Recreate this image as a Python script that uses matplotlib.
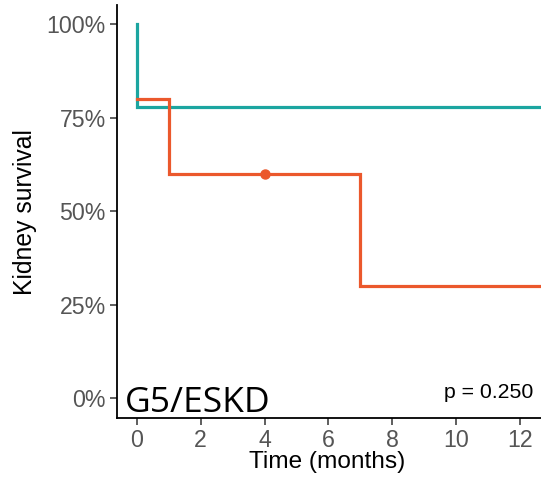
import matplotlib
matplotlib.use("Agg")
import matplotlib.pyplot as plt

# Kaplan-Meier step data
teal_time = [0.0, 0.02, 12.6]
teal_surv = [1.0, 0.778, 0.778]
orange_time = [0.0, 1.0, 7.0, 12.6]
orange_surv = [0.80, 0.60, 0.30, 0.30]
censor_time = [4.0]
censor_surv = [0.60]

x_ticks = [0, 2, 4, 6, 8, 10, 12]
y_ticks = [0, 0.25, 0.5, 0.75, 1.0]
y_tick_labels = ["0%", "25%", "50%", "75%", "100%"]

teal = "#1BA5A0"
orange = "#EB582C"

plt.rcParams['font.family'] = ['Liberation Sans', 'DejaVu Sans']

fig = plt.figure(figsize=(5.41, 4.78), dpi=100)
ax = fig.add_axes([117/541, 1 - 418.3/478, 1 - 117/541, (418.3 - 5)/478])

ax.step(teal_time, teal_surv, where='post', color=teal, lw=2.3, solid_joinstyle='miter')
ax.step(orange_time, orange_surv, where='post', color=orange, lw=2.3, solid_joinstyle='miter')
ax.plot(censor_time, censor_surv, 'o', color=orange, ms=6.5, mec=orange)

ax.set_xlim(-0.62, 12.66)
ax.set_ylim(-0.053, 1.052)
ax.set_xticks(x_ticks)
ax.set_xticklabels([str(t) for t in x_ticks])
ax.set_yticks(y_ticks)
ax.set_yticklabels(y_tick_labels)

for s in ['top', 'right']:
    ax.spines[s].set_visible(False)
for s in ['left', 'bottom']:
    ax.spines[s].set_linewidth(1.3)
    ax.spines[s].set_color('black')

ax.tick_params(axis='both', labelsize=16.7, colors='#333333', labelcolor='#555555',
               length=5, width=1.1, pad=3)

ax.set_xlabel("Time (months)", fontsize=17.6, color='black')
ax.set_ylabel("Kidney survival", fontsize=17.8, color='black')
ax.xaxis.set_label_coords((327 - 117) / (541 - 117), -0.078)
ax.yaxis.set_label_coords((37 - 117) / (541 - 117), 0.5)

fig.text(125/541, 1 - 412/478, "G5/ESKD", fontsize=25.5, family=['Open Sans', 'DejaVu Sans'],
         color='black', ha='left', va='baseline')
fig.text(533/541, 1 - 398/478, "p = 0.250", fontsize=15.3, color='black',
         ha='right', va='baseline')

fig.savefig("out.png", dpi=100)
